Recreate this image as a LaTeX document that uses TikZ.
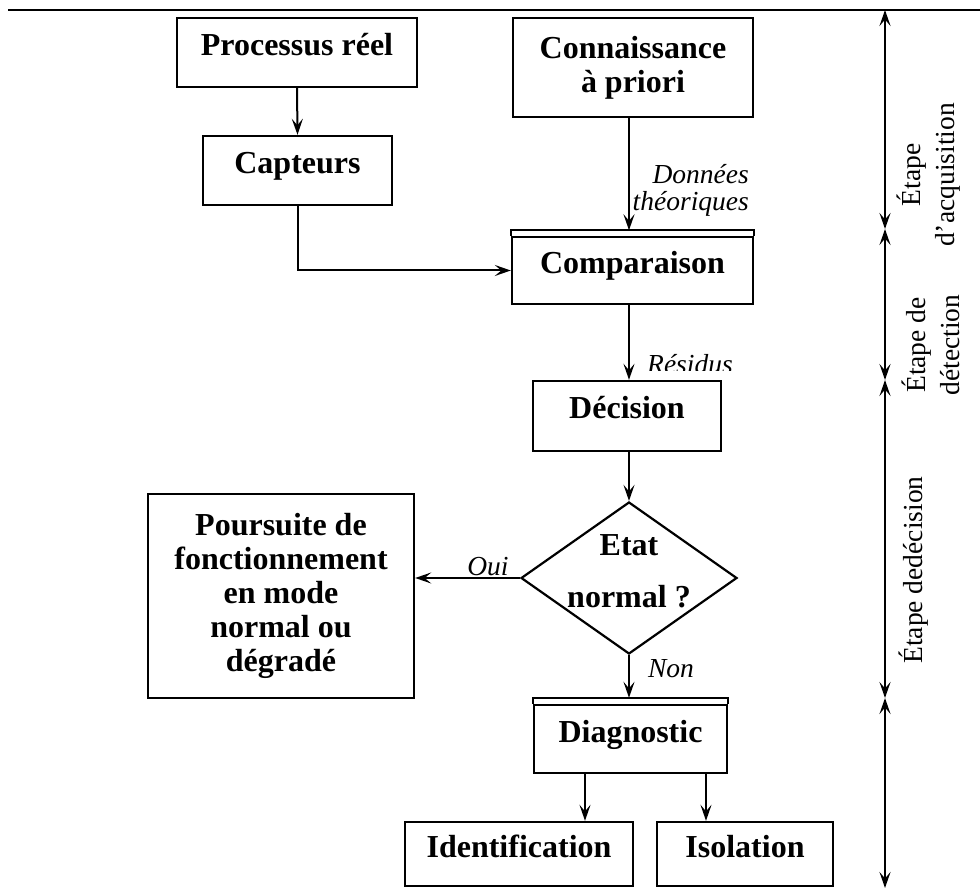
\documentclass[tikz,border=0pt]{standalone}
\usepackage{fontspec}
\setmainfont{Liberation Serif}
\usetikzlibrary{arrows.meta,shapes.geometric,calc}
\begin{document}
\begin{tikzpicture}[x=1pt,y=-1pt,
  tip/.tip={Stealth[length=16pt,width=11pt,inset=6.5pt]},
  box/.style={draw,line width=2.4pt,inner sep=0pt,align=center,
    font=\fontsize{32}{34}\selectfont\bfseries},
  onebox/.style={box,text height=22pt,text depth=16pt},
  flow/.style={line width=2pt,-tip},
  span/.style={line width=2.4pt,tip-tip},
  note/.style={font=\fontsize{27.5}{27}\selectfont\itshape,inner sep=0pt},
  stage/.style={rotate=90,align=center,inner sep=0pt,
    font=\fontsize{27.5}{34}\selectfont}]
\useasboundingbox (0,0) rectangle (980,890);

% boxes of the flow chart
\node[onebox,minimum width=240pt,minimum height=69pt] (proc) at (297,52.5) {Processus réel};
\node[box,minimum width=240pt,minimum height=99pt] (conn) at (633,67.5) {Connaissance\\à priori};
\node[onebox,minimum width=189pt,minimum height=69pt] (capt) at (297.5,170.5) {Capteurs};
\node[onebox,minimum width=241pt,minimum height=67pt] (comp) at (632.5,270.5) {Comparaison};
\draw[line width=2.4pt] (comp.north west) -- ++(0,-5.5) -| (comp.north east);
\coordinate (comptop) at ($(comp.north)+(-3.5,-5.5)$);
\node[onebox,minimum width=188pt,minimum height=70pt] (dec) at (627,416) {Décision};
\node[draw,diamond,line width=2.2pt,inner sep=0pt,minimum width=216pt,minimum height=152pt] (state) at (629,578) {};
\node[align=center,inner sep=0pt,font=\fontsize{32}{52}\selectfont\bfseries] (statetxt) at (629,571) {Etat\\normal ?};
\node[box,minimum width=266pt,minimum height=204pt] (pours) at (281,596) {Poursuite de\\fonctionnement\\en mode\\normal ou\\dégradé};
\node[onebox,minimum width=193pt,minimum height=68pt] (diag) at (630.5,739) {Diagnostic};
\draw[line width=2.4pt] (diag.north west) -- ++(0,-6) -| (diag.north east);
\coordinate (diagtop) at ($(diag.north)+(-1.5,-6)$);
\node[onebox,minimum width=228pt,minimum height=64pt] (ident) at (519,854) {Identification};
\node[onebox,minimum width=176pt,minimum height=64pt] (isol) at (745,854) {Isolation};

% connectors
\draw[flow] (proc.south) -- (capt.north);
\draw[flow] (conn.south -| comptop) -- (comptop);
\draw[flow] (capt.south) |- (comp.west);
\draw[flow] (comp.south -| state.north) -- (dec.north -| state.north);
\draw[flow] (dec.south -| state.north) -- (state.north);
\draw[flow] (state.west) -- (state.west -| pours.east);
\draw[flow] (state.south) -- (diagtop);
\draw[flow] ([xshift=-45.5pt]diag.south) -- ([xshift=-45.5pt]diag.south |- ident.north);
\draw[flow] ([xshift=75.5pt]diag.south) -- ([xshift=75.5pt]diag.south |- isol.north);

% connector labels
\node[note,align=right,anchor=east] (donnees) at (749,190) {Données\\théoriques};
\begin{scope}
  \clip (640,340) rectangle (760,371);
  \node[note,anchor=base] (residus) at (690,374) {Résidus};
\end{scope}
\node[note,anchor=base] (oui) at (488,575) {Oui};
\node[note,anchor=base] (non) at (671,677) {Non};

% stage scale on the right
\coordinate (topL) at (8,10);
\coordinate (topR) at (980,10);
\draw[line width=2.2pt] (topL) -- (topR);
\coordinate (s0) at (885,10);
\coordinate (s1) at (885,229);
\coordinate (s2) at (885,380);
\coordinate (s3) at (885,698);
\coordinate (s4) at (885,888);
\draw[span] (s0) -- (s1);
\draw[span] (s1) -- (s2);
\draw[span] (s2) -- (s3);
\draw[span] (s3) -- (s4);
\node[stage] (acq) at (929,175) {Étape\\d’acquisition};
\node[stage] (det) at (931,345) {Étape de\\détection};
\node[stage,anchor=base] (decis) at (922,570) {Étape dedécision};
\end{tikzpicture}
\end{document}
